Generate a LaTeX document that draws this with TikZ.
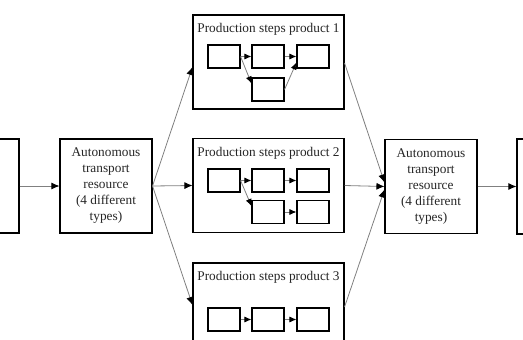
\documentclass[tikz,border=0pt]{standalone}
\usepackage{fontspec}
\setmainfont{Liberation Serif}
\usetikzlibrary{arrows.meta,calc}
\begin{document}
\begin{tikzpicture}[x=1pt,y=-1pt,
  box/.style={draw=black,line width=1.1pt,inner sep=0pt,fill=white},
  bigbox/.style={box,minimum width=151pt,minimum height=94pt},
  stepbox/.style={box,minimum width=32pt,minimum height=23pt},
  atr/.style={box,minimum width=92pt,minimum height=94pt,align=center,
    font=\fontsize{13.3}{16}\selectfont,text=black!85},
  ttl/.style={font=\fontsize{13.3}{16}\selectfont,text=black!85,inner sep=0pt},
  conn/.style={draw=black!50,line width=0.8pt,-{Latex[length=8pt,width=7pt,black]}},
  iconn/.style={draw=black!50,line width=0.8pt,-{Latex[length=7pt,width=6pt,black]}}]
\useasboundingbox (0,0) rectangle (523,340);
\clip (0,0) rectangle (523,340);
% outer boxes
\node[box,minimum width=60pt,minimum height=94pt] (lb) at (-11,186) {};
\node[atr] (atrl) at (106,186) {Autonomous\\transport\\resource\\(4 different\\types)};
\node[bigbox] (p1) at (268.5,62) {};
\node[bigbox,minimum height=94pt] (p2) at (268.5,185.5) {};
\node[bigbox] (p3) at (268.5,310) {};
\node[atr] (atrr) at (431,186.5) {Autonomous\\transport\\resource\\(4 different\\types)};
\node[box,minimum width=60pt,minimum height=95pt] (rb) at (547,186.5) {};
% titles
\node[ttl] (t1) at (268.5,29) {Production steps product 1};
\node[ttl] (t2) at (268.5,153) {Production steps product 2};
\node[ttl] (t3) at (268.5,277) {Production steps product 3};
% product 1 steps
\node[stepbox] (a1) at (224,56.5) {};
\node[stepbox] (a2) at (268,56.5) {};
\node[stepbox] (a3) at (313,56.5) {};
\node[stepbox] (a4) at (268,89.5) {};
% product 2 steps
\node[stepbox] (b1) at (224,180.5) {};
\node[stepbox] (b2) at (268,180.5) {};
\node[stepbox] (b3) at (313,180.5) {};
\node[stepbox] (b4) at (268,212) {};
\node[stepbox] (b5) at (313,212) {};
% product 3 steps
\node[stepbox] (c1) at (224,319.5) {};
\node[stepbox] (c2) at (268,319.5) {};
\node[stepbox] (c3) at (313,319.5) {};
% inner connectors
\draw[iconn] (a1) -- (a2);
\draw[iconn] (a2) -- (a3);
\draw[iconn] (a1.east) -- ($(a4.west)!0.5!(a4.north west)$);
\draw[iconn] (a4.east) -- ($(a3.west)!0.5!(a3.south west)$);
\draw[iconn] (b1) -- (b2);
\draw[iconn] (b2) -- (b3);
\draw[iconn] (b1.east) -- ($(b4.west)!0.5!(b4.north west)$);
\draw[iconn] (b4) -- (b5);
\draw[iconn] (c1) -- (c2);
\draw[iconn] (c2) -- (c3);
% outer connectors
\draw[conn] (lb.east) -- (atrl.west);
\draw[conn] (atrl.east) -- ($(p1.west)+(0,5)$);
\draw[conn] (atrl.east) -- (p2.west);
\draw[conn] (atrl.east) -- ($(p3.west)+(0,-5)$);
\draw[conn] ($(p1.east)+(0,1)$) -- ($(atrr.west)+(0,-4)$);
\draw[conn] (p2.east) -- (atrr.west);
\draw[conn] ($(p3.east)+(0,-3)$) -- ($(atrr.west)+(0,3)$);
\draw[conn] (atrr.east) -- (rb.west);
\end{tikzpicture}
\end{document}
